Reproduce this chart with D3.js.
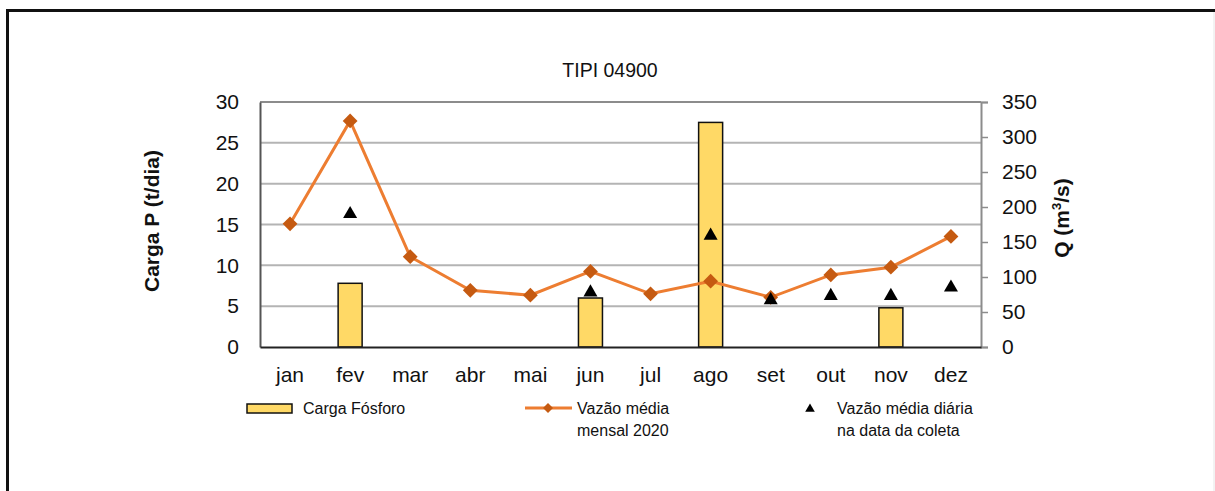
<!DOCTYPE html>
<html>
<head>
<meta charset="utf-8">
<script src="https://cdn.jsdelivr.net/npm/d3@7"></script>
<style>
  body { margin: 0; background: #fff; }
  svg { display: block; font-family: "Liberation Sans", Arial, sans-serif; }
</style>
</head>
<body>
<svg id="chart" width="1215" height="491"></svg>
<script>
// Monthly data for station TIPI 04900
const months = ["jan", "fev", "mar", "abr", "mai", "jun", "jul", "ago", "set", "out", "nov", "dez"];
// Phosphorus load (t/dia); null = no sample
const cargaFosforo = [null, 7.8, null, null, null, 6.0, null, 27.5, null, null, 4.8, null];
// Mean monthly discharge 2020 (m³/s)
const vazaoMensal = [176, 323, 129, 81, 74, 108, 76, 94, 71, 103, 114, 158];
// Mean daily discharge on sampling date (m³/s)
const vazaoDiaria = [null, 190, null, null, null, 78, null, 159, 67, 73, 73, 85];
const leftTicks = [0, 5, 10, 15, 20, 25, 30];
const rightTicks = [0, 50, 100, 150, 200, 250, 300, 350];

const svg = d3.select("#chart");
const m = { left: 260, right: 981, top: 102, bottom: 347 };

// Outer frame
svg.append("path")
  .attr("d", `M7.5,491 V10.5 H1215`)
  .attr("fill", "none").attr("stroke", "#111").attr("stroke-width", 3);
svg.append("line").attr("x1", 1214).attr("x2", 1214).attr("y1", 12).attr("y2", 491)
  .attr("stroke", "#e6e6e6").attr("stroke-width", 1);

const x = d3.scaleBand().domain(months).range([m.left, m.right]);
const yL = d3.scaleLinear().domain([0, 30]).range([m.bottom, m.top]);
const yR = d3.scaleLinear().domain([0, 350]).range([m.bottom, m.top]);

// Gridlines
svg.append("g").selectAll("line").data(leftTicks.filter(t => t > 0 && t < 30)).join("line")
  .attr("x1", m.left).attr("x2", m.right)
  .attr("y1", d => yL(d)).attr("y2", d => yL(d))
  .attr("stroke", "#b4b4b4").attr("stroke-width", 2);

// Plot frame top
svg.append("line").attr("x1", m.left).attr("x2", m.right).attr("y1", m.top).attr("y2", m.top)
  .attr("stroke", "#8c8c8c").attr("stroke-width", 2);

// Bars
const bw = 24;
svg.append("g").selectAll("rect")
  .data(months.map((mo, i) => ({ mo, v: cargaFosforo[i] })).filter(d => d.v != null))
  .join("rect")
  .attr("x", d => x(d.mo) + x.bandwidth() / 2 - bw / 2)
  .attr("y", d => yL(d.v))
  .attr("width", bw)
  .attr("height", d => yL(0) - yL(d.v))
  .attr("fill", "#FFD966").attr("stroke", "#111").attr("stroke-width", 1.5);

const tickFont = "Liberation Sans, Arial, sans-serif";

// Left axis
const axL = svg.append("g").attr("transform", `translate(${m.left},0)`)
  .call(d3.axisLeft(yL).tickValues(leftTicks).tickSize(0).tickPadding(21));
axL.select(".domain").attr("stroke", "#555").attr("stroke-width", 2);
axL.selectAll("text").attr("font-size", 21).attr("fill", "#111").attr("font-family", tickFont);

// Right axis
const axR = svg.append("g").attr("transform", `translate(${m.right},0)`)
  .call(d3.axisRight(yR).tickValues(rightTicks).tickSize(7).tickPadding(14));
axR.select(".domain").attr("stroke", "#8c8c8c").attr("stroke-width", 2);
axR.selectAll(".tick line").attr("stroke", "#8c8c8c").attr("stroke-width", 1.5);
axR.selectAll("text").attr("font-size", 21).attr("fill", "#111").attr("font-family", tickFont);

// Bottom axis
const axB = svg.append("g").attr("transform", `translate(0,${m.bottom})`)
  .call(d3.axisBottom(x).tickSize(0).tickPadding(20));
axB.select(".domain").attr("stroke", "#222").attr("stroke-width", 2);
axB.selectAll("text").attr("font-size", 21).attr("fill", "#111").attr("font-family", tickFont);

// Monthly discharge line
const line = d3.line().x((d, i) => x(months[i]) + x.bandwidth() / 2).y(d => yR(d));
svg.append("path").datum(vazaoMensal).attr("d", line)
  .attr("fill", "none").attr("stroke", "#ED7D31").attr("stroke-width", 3);
const diamond = d3.symbol().type(d3.symbolSquare).size(110);
svg.append("g").selectAll("path").data(vazaoMensal).join("path")
  .attr("d", diamond)
  .attr("transform", (d, i) => `translate(${x(months[i]) + x.bandwidth() / 2},${yR(d)}) rotate(45)`)
  .attr("fill", "#C55A11");

// Daily discharge triangles
const tri = d3.symbol().type(d3.symbolTriangle).size(85);
svg.append("g").selectAll("path")
  .data(months.map((mo, i) => ({ mo, v: vazaoDiaria[i] })).filter(d => d.v != null))
  .join("path")
  .attr("d", tri)
  .attr("transform", d => `translate(${x(d.mo) + x.bandwidth() / 2},${yR(d.v)})`)
  .attr("fill", "#000");

// Title
svg.append("text").attr("x", 610).attr("y", 77).attr("text-anchor", "middle")
  .attr("font-size", 19.5).attr("fill", "#111").text("TIPI 04900");

// Axis titles
svg.append("text").attr("transform", "translate(159,221) rotate(-90)")
  .attr("text-anchor", "middle").attr("font-size", 21).attr("font-weight", "bold").attr("fill", "#111")
  .text("Carga P  (t/dia)");
const qt = svg.append("text").attr("transform", "translate(1069,218) rotate(-90)")
  .attr("text-anchor", "middle").attr("font-size", 21).attr("font-weight", "bold").attr("fill", "#111");
qt.append("tspan").text("Q (m");
qt.append("tspan").attr("font-size", 13).attr("dy", -8).text("3");
qt.append("tspan").attr("dy", 8).text("/s)");

// Legend
const lg = svg.append("g").attr("font-size", 16).attr("fill", "#111");
lg.append("rect").attr("x", 247).attr("y", 404).attr("width", 45).attr("height", 9)
  .attr("fill", "#FFD966").attr("stroke", "#111").attr("stroke-width", 1.5);
lg.append("text").attr("x", 303).attr("y", 414).text("Carga Fósforo");
lg.append("line").attr("x1", 525).attr("x2", 572).attr("y1", 408).attr("y2", 408)
  .attr("stroke", "#ED7D31").attr("stroke-width", 3);
lg.append("path").attr("d", d3.symbol().type(d3.symbolSquare).size(50))
  .attr("transform", "translate(548,408) rotate(45)").attr("fill", "#C55A11");
lg.append("text").attr("x", 577).attr("y", 414).text("Vazão média");
lg.append("text").attr("x", 577).attr("y", 436).text("mensal 2020");
lg.append("path").attr("d", d3.symbol().type(d3.symbolTriangle).size(40))
  .attr("transform", "translate(810,409)").attr("fill", "#000");
lg.append("text").attr("x", 837).attr("y", 414).text("Vazão média diária");
lg.append("text").attr("x", 837).attr("y", 436).text("na data da coleta");
</script>
</body>
</html>
